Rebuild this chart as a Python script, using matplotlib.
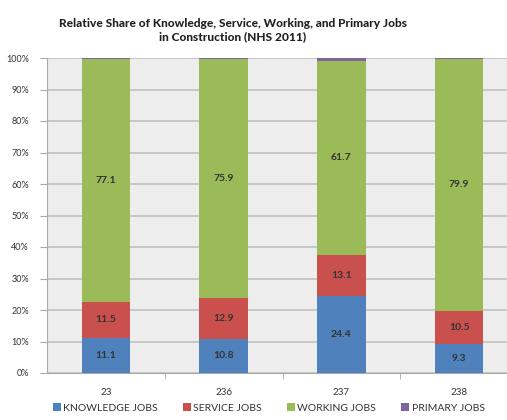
import numpy as np
import matplotlib.pyplot as plt
from matplotlib.ticker import PercentFormatter
from matplotlib.patches import Patch

plt.rcParams["font.family"] = ["Lato", "DejaVu Sans"]

categories = ["23", "236", "237", "238"]
knowledge = [11.1, 10.8, 24.4, 9.3]
service = [11.5, 12.9, 13.1, 10.5]
working = [77.1, 75.9, 61.7, 79.9]
primary = [0.3, 0.4, 0.8, 0.3]

series = [
    ("KNOWLEDGE JOBS", knowledge, "#4f81bd", True),
    ("SERVICE JOBS", service, "#c9504d", True),
    ("WORKING JOBS", working, "#9bbb59", True),
    ("PRIMARY JOBS", primary, "#8064a2", False),
]

fig = plt.figure(figsize=(5.07, 4.2), dpi=100)
ax = fig.add_axes([47 / 507, 47 / 420, 471 / 507, 315 / 420])
ax.set_facecolor("#ededed")

x = np.arange(len(categories))
bottom = np.zeros(len(categories))
for name, vals, color, labelled in series:
    vals = np.array(vals)
    ax.bar(x, vals, 0.41, bottom=bottom, color=color, zorder=3)
    if labelled:
        for xi, b, v in zip(x, bottom, vals):
            ax.text(xi, b + v / 2, f"{v:.1f}", ha="center", va="center",
                    fontsize=7.5, fontweight="bold", color="#333333", zorder=4)
    bottom += vals

ax.set_xlim(-0.5, len(categories) - 0.5)
ax.set_ylim(0, 100)
ax.set_yticks(np.arange(0, 101, 10))
ax.yaxis.set_major_formatter(PercentFormatter(decimals=0))
ax.yaxis.grid(True, color="#c4c4c4", lw=1.3, zorder=0)
ax.set_xticks(x)
ax.set_xticklabels(categories)
ax.set_xticks(np.arange(0.5, len(categories) - 0.5, 1), minor=True)
ax.tick_params(axis="x", which="major", length=0, pad=11, labelsize=7, labelcolor="#333333")
ax.tick_params(axis="x", which="minor", length=4, color="#aaaaaa")
ax.tick_params(axis="y", length=5, color="#aaaaaa", labelsize=6.5, labelcolor="#333333", pad=8)

for side in ["top", "right"]:
    ax.spines[side].set_visible(False)
for side in ["left", "bottom"]:
    ax.spines[side].set_color("#aaaaaa")

ax.set_title("Relative Share of Knowledge, Service, Working, and Primary Jobs\n"
             "in Construction (NHS 2011)", fontsize=8.6, fontweight="black",
             color="#222222", pad=13, x=(233 - 47) / 471, linespacing=1.25)

handles = [Patch(facecolor=c, label=n) for n, _, c, _ in series]
fig.legend(handles=handles, loc="center", bbox_to_anchor=(0.53, 0.028), ncol=4,
           frameon=False, fontsize=7.5, handlelength=0.8, handleheight=0.8,
           handletextpad=0.2, columnspacing=2.4, labelcolor="#333333")

fig.savefig("out.png", dpi=100)
